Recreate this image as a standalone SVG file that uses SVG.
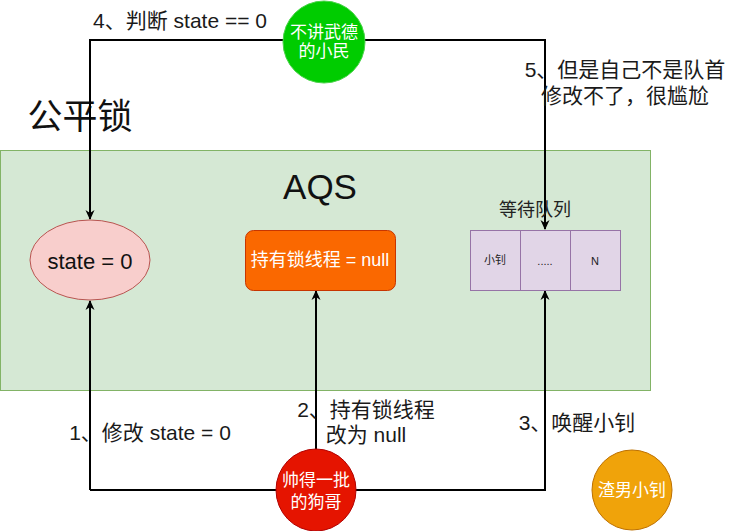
<svg xmlns="http://www.w3.org/2000/svg" width="741" height="531" viewBox="0 0 741 531">
<defs>
<style>
text{font-family:"Liberation Sans","Noto Sans CJK SC",sans-serif;dominant-baseline:central;text-anchor:middle;}
.lbl{font-size:21px;fill:#1a1a1a;}
.wt{fill:#ffffff;}
.edge{fill:none;stroke:#000;stroke-width:2;}
</style>
<marker id="arr" viewBox="0 0 10 10" refX="9" refY="5" markerWidth="10" markerHeight="10" markerUnits="userSpaceOnUse" orient="auto">
<path d="M0,0.5 L10,5 L0,9.5 L3,5 Z" fill="#000"/>
</marker>
</defs>
<rect width="741" height="531" fill="#ffffff"/>

<g id="aqs">
<rect x="0.5" y="150.5" width="650" height="240" fill="#d5e8d4" stroke="#82b366"/>
<text x="320" y="186" style="font-size:35px;fill:#111">AQS</text>
</g>

<g id="title">
<text x="80" y="116" style="font-size:35px;fill:#111">公平锁</text>
</g>

<g id="connectors">
<polyline class="edge" points="90,490 90,301" marker-end="url(#arr)"/>
<polyline class="edge" points="316,450 316,291" marker-end="url(#arr)"/>
<polyline class="edge" points="90,490 545,490 545,291" marker-end="url(#arr)"/>
<polyline class="edge" points="320,40 90,40 90,219" marker-end="url(#arr)"/>
<polyline class="edge" points="320,40 545,40 545,229" marker-end="url(#arr)"/>
</g>

<g id="state">
<ellipse cx="90" cy="260" rx="60" ry="40" fill="#f8cecc" stroke="#b85450"/>
<text x="90" y="261" style="font-size:22px;fill:#111">state = 0</text>
</g>

<g id="owner">
<rect x="245.5" y="230.5" width="150" height="60" rx="8" fill="#fa6800" stroke="#c73500"/>
<text class="wt" x="320" y="260" style="font-size:18px">持有锁线程 = null</text>
</g>

<g id="queue">
<text x="535" y="210" style="font-size:18px;fill:#222">等待队列</text>
<rect x="470.5" y="230.5" width="50" height="60" fill="#e1d5e7" stroke="#9673a6"/>
<rect x="520.5" y="230.5" width="50" height="60" fill="#e1d5e7" stroke="#9673a6"/>
<rect x="570.5" y="230.5" width="50" height="60" fill="#e1d5e7" stroke="#9673a6"/>
<text x="495" y="260" style="font-size:11px;fill:#222">小钊</text>
<text x="545" y="261" style="font-size:11px;fill:#222">.....</text>
<text x="595" y="261" style="font-size:11px;fill:#222">N</text>
</g>

<g id="minmin">
<circle cx="324" cy="42" r="41" fill="#00cc00" stroke="#4bd34b"/>
<text class="wt" x="324" y="32" style="font-size:17px">不讲武德</text>
<text class="wt" x="324" y="51" style="font-size:17px">的小民</text>
</g>

<g id="gouge">
<ellipse cx="316" cy="490" rx="40" ry="41" fill="#e51400" stroke="#b20000"/>
<text class="wt" x="316" y="480" style="font-size:17px">帅得一批</text>
<text class="wt" x="316" y="502" style="font-size:17px">的狗哥</text>
</g>

<g id="xiaozhao">
<ellipse cx="632" cy="490" rx="40" ry="40" fill="#f0a30a" stroke="#bd7000"/>
<text class="wt" x="632" y="490" style="font-size:17px">渣男小钊</text>
</g>

<g id="labels">
<text class="lbl" x="180" y="20">4、判断 state == 0</text>
<text class="lbl" x="625" y="69">5、但是自己不是队首</text>
<text class="lbl" x="625" y="95">修改不了，很尴尬</text>
<text class="lbl" x="150" y="432">1、修改 state = 0</text>
<text class="lbl" x="366" y="409">2、持有锁线程</text>
<text class="lbl" x="366" y="434">改为 null</text>
<text class="lbl" x="577" y="422">3、唤醒小钊</text>
</g>
</svg>
